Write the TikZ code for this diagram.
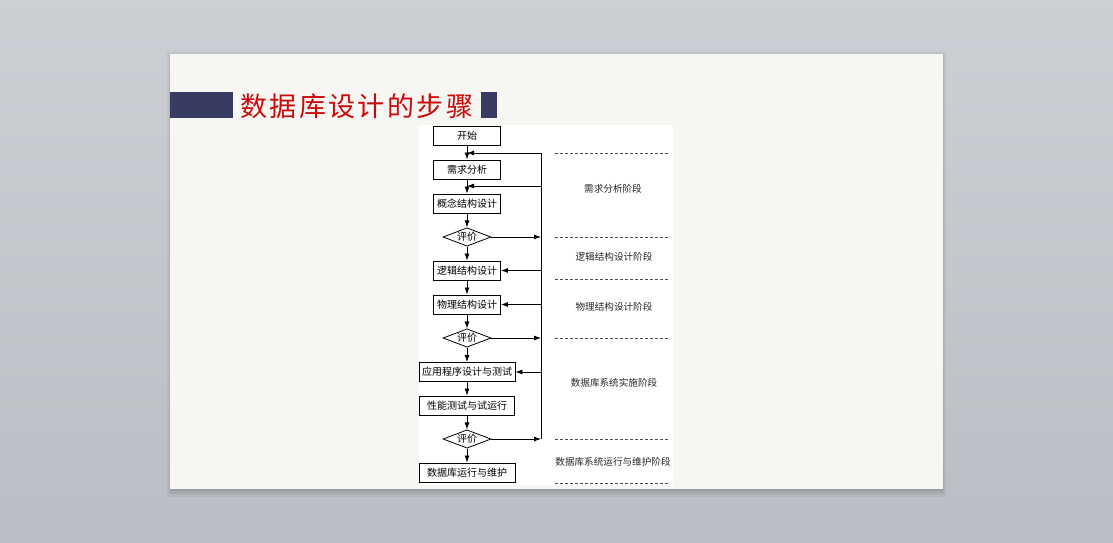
\documentclass[tikz,border=0pt]{standalone}
\usepackage{fontspec}
\setmainfont{Noto Sans CJK SC}
\newfontfamily\cjk{Noto Sans CJK SC}
\newfontfamily\cjktitle[LetterSpace=9]{Noto Sans CJK SC}
\usetikzlibrary{shapes.geometric,arrows.meta}
\definecolor{bgtop}{RGB}{204,207,212}
\definecolor{bgbot}{RGB}{186,189,195}
\definecolor{slide}{RGB}{247,246,242}
\definecolor{navy}{RGB}{56,60,98}
\definecolor{titlered}{RGB}{200,10,10}
\tikzset{
  box/.style={draw=black, line width=0.9pt, fill=white, minimum height=19pt, inner sep=1pt, font=\cjk\fontsize{10}{11}\selectfont},
  evalbox/.style={draw=black, line width=0.8pt, fill=white, diamond, aspect=2.6, inner sep=0.5pt, minimum width=48pt, minimum height=18pt, font=\cjk\fontsize{10}{11}\selectfont},
  flow/.style={line width=0.8pt, -{Latex[length=7pt,width=5pt]}},
  rail/.style={line width=0.8pt},
  sep/.style={dashed, dash pattern=on 3pt off 2pt, line width=0.7pt, draw=black!70},
  phase/.style={font=\cjk\fontsize{9.6}{10}\selectfont, text=black!85},
}
\begin{document}
\begin{tikzpicture}[x=1pt,y=-1pt]
\useasboundingbox (0,0) rectangle (1113,543);
% background
\shade[top color=bgtop, bottom color=bgbot] (0,0) rectangle (1113,543);
% slide shadow
\fill[black, opacity=0.05] (167,52) rectangle (946,497);
\fill[black, opacity=0.06] (169,54) rectangle (944,494);
\fill[black, opacity=0.08] (170,56) rectangle (943,491);
\fill[slide] (170,54) rectangle (943,489);
% title bar
\fill[navy] (170,92) rectangle (233,118);
\fill[navy] (481,92) rectangle (497,118);
\node[anchor=west, text=titlered, font=\cjktitle\fontsize{27}{28}\selectfont, inner sep=0] (title) at (240,106) {数据库设计的步骤};
% image panel
\fill[white] (419,125) rectangle (673,485);
% flowchart nodes
\node[box, minimum width=67pt] (start) at (467,135.5) {开始};
\node[box, minimum width=67pt] (req) at (467,169.5) {需求分析};
\node[box, minimum width=67pt] (concept) at (467,203.5) {概念结构设计};
\node[evalbox] (eval1) at (467,237) {评价};
\node[box, minimum width=67pt] (logic) at (467,270.5) {逻辑结构设计};
\node[box, minimum width=67pt] (phys) at (467,304.5) {物理结构设计};
\node[evalbox] (eval2) at (467,338) {评价};
\node[box, minimum width=96pt] (app) at (467,372) {应用程序设计与测试};
\node[box, minimum width=95pt] (perf) at (467,405.5) {性能测试与试运行};
\node[evalbox] (eval3) at (467,439) {评价};
\node[box, minimum width=96pt] (maint) at (467,472.5) {数据库运行与维护};
% main flow
\draw[flow] (start) -- (req);
\draw[flow] (req) -- (concept);
\draw[flow] (concept) -- (eval1);
\draw[flow] (eval1) -- (logic);
\draw[flow] (logic) -- (phys);
\draw[flow] (phys) -- (eval2);
\draw[flow] (eval2) -- (app);
\draw[flow] (app) -- (perf);
\draw[flow] (perf) -- (eval3);
\draw[flow] (eval3) -- (maint);
% feedback rail
\coordinate (rtop) at (541,153);
\coordinate (rbot) at (541,439);
\coordinate (fb1) at (467,153);
\coordinate (fb2) at (467,186);
\coordinate (r2) at (541,186);
\draw[rail] (rtop) -- (rbot);
\draw[flow] (rtop) -- (fb1);
\draw[flow] (r2) -- (fb2);
\draw[flow] (eval1.east) -- (eval1.east -| rtop);
\draw[flow] (eval2.east) -- (eval2.east -| rtop);
\draw[flow] (eval3.east) -- (eval3.east -| rtop);
\draw[flow] (logic.east -| rtop) -- (logic.east);
\draw[flow] (phys.east -| rtop) -- (phys.east);
\draw[flow] (app.east -| rtop) -- (app.east);
% phase separators
\coordinate (s1l) at (555,153); \coordinate (s1r) at (670,153);
\coordinate (s2l) at (555,237); \coordinate (s2r) at (670,237);
\coordinate (s3l) at (555,279); \coordinate (s3r) at (670,279);
\coordinate (s4l) at (555,338); \coordinate (s4r) at (670,338);
\coordinate (s5l) at (555,439); \coordinate (s5r) at (670,439);
\coordinate (s6l) at (555,483); \coordinate (s6r) at (670,483);
\draw[sep] (s1l) -- (s1r);
\draw[sep] (s2l) -- (s2r);
\draw[sep] (s3l) -- (s3r);
\draw[sep] (s4l) -- (s4r);
\draw[sep] (s5l) -- (s5r);
\draw[sep] (s6l) -- (s6r);
% phase labels
\node[phase] (p1) at (613,189) {需求分析阶段};
\node[phase] (p2) at (614,257) {逻辑结构设计阶段};
\node[phase] (p3) at (614,307) {物理结构设计阶段};
\node[phase] (p4) at (614,383) {数据库系统实施阶段};
\node[phase] (p5) at (613,462) {数据库系统运行与维护阶段};
\end{tikzpicture}
\end{document}
